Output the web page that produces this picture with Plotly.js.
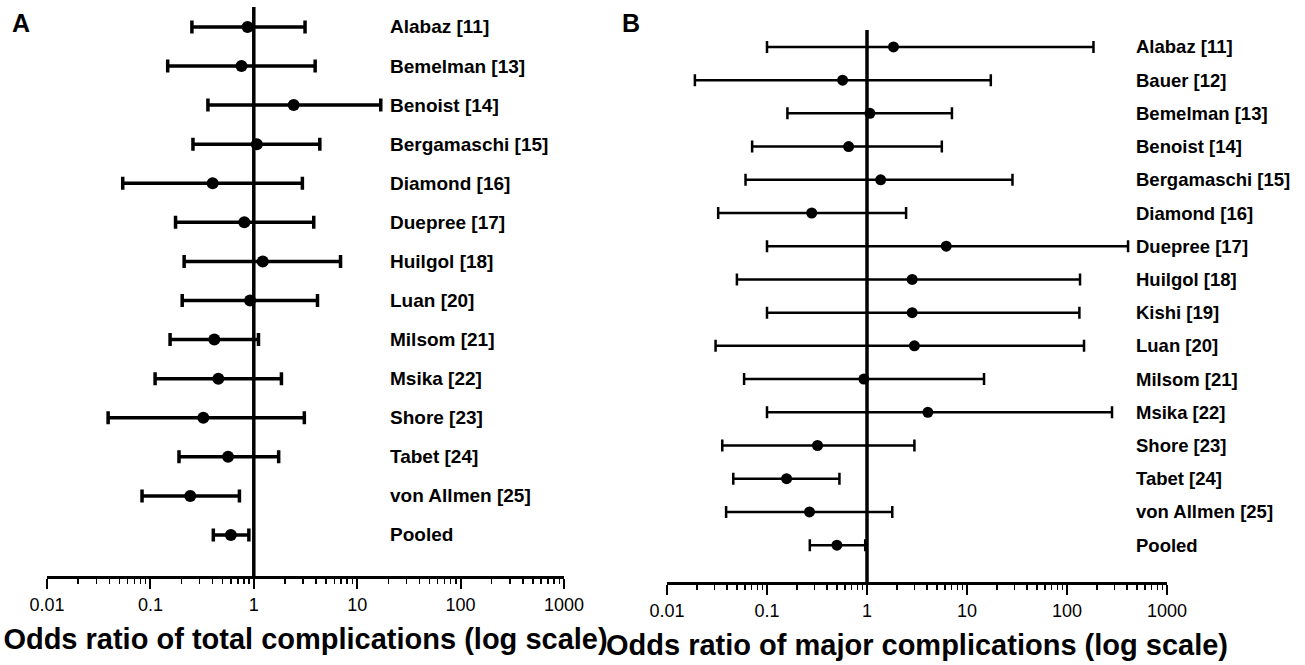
<!DOCTYPE html>
<html>
<head>
<meta charset="utf-8">
<script src="https://cdn.plot.ly/plotly-3.0.1.min.js"></script>
<style>html,body{margin:0;padding:0;background:#fff;}#chart{width:1305px;height:665px;}</style>
</head>
<body>
<div id="chart"></div>
<script>
// Panel A: total complications
const studiesA = ["Alabaz [11]", "Bemelman [13]", "Benoist [14]", "Bergamaschi [15]", "Diamond [16]", "Duepree [17]", "Huilgol [18]", "Luan [20]", "Milsom [21]", "Msika [22]", "Shore [23]", "Tabet [24]", "von Allmen [25]", "Pooled"];
const oddsA = [0.87, 0.76, 2.43, 1.07, 0.40, 0.81, 1.22, 0.92, 0.415, 0.454, 0.325, 0.564, 0.243, 0.60];
const lowA  = [0.252, 0.147, 0.36, 0.258, 0.054, 0.175, 0.212, 0.203, 0.155, 0.111, 0.039, 0.189, 0.083, 0.406];
const highA = [3.13, 3.92, 16.9, 4.35, 2.95, 3.8, 6.9, 4.13, 1.11, 1.85, 3.08, 1.74, 0.726, 0.896];

// Panel B: major complications
const studiesB = ["Alabaz [11]", "Bauer [12]", "Bemelman [13]", "Benoist [14]", "Bergamaschi [15]", "Diamond [16]", "Duepree [17]", "Huilgol [18]", "Kishi [19]", "Luan [20]", "Milsom [21]", "Msika [22]", "Shore [23]", "Tabet [24]", "von Allmen [25]", "Pooled"];
const oddsB = [1.84, 0.57, 1.07, 0.655, 1.37, 0.28, 6.2, 2.83, 2.83, 2.98, 0.93, 4.06, 0.32, 0.157, 0.266, 0.50];
const lowB  = [0.10, 0.019, 0.16, 0.071, 0.061, 0.0325, 0.10, 0.05, 0.10, 0.0306, 0.059, 0.10, 0.0357, 0.046, 0.039, 0.268];
const highB = [184, 17.3, 7.07, 5.6, 28.5, 2.46, 408, 135, 133, 148, 14.8, 282, 2.98, 0.53, 1.79, 0.96];

// Axis ticks
const tickValues = [0.01, 0.1, 1, 10, 100, 1000];
const tickLabels = ["0.01", "0.1", "1", "10", "100", "1000"];
const nullValue = 1;

const FONT = "Liberation Sans, Arial, Helvetica, sans-serif";
const W = 1305, H = 665;

function forestTrace(cats, odds, low, high, xa, ya, thick, capw, msize) {
  return {
    type: "scatter", mode: "markers",
    x: odds, y: cats, xaxis: xa, yaxis: ya,
    marker: {color: "black", size: msize},
    error_x: {
      type: "data", symmetric: false,
      array: high.map((h, i) => h - odds[i]),
      arrayminus: odds.map((o, i) => o - low[i]),
      color: "black", thickness: thick, width: capw
    },
    hoverinfo: "x+y"
  };
}

function xAxis(domain, anchor, title) {
  return {
    domain: domain, anchor: anchor, type: "log", range: [-2, 3],
    tickvals: tickValues, ticktext: tickLabels,
    ticks: "outside", ticklen: 10, tickwidth: 2, tickcolor: "black",
    showline: true, linewidth: 3, linecolor: "black",
    showgrid: false, zeroline: false,
    minor: {ticks: "outside", ticklen: 5, tickwidth: 1.5, tickcolor: "black", dtick: "D1", showgrid: false},
    tickfont: {family: FONT, size: 18, color: "black"},
    title: {text: title, font: {family: FONT, size: 29, color: "black", weight: "bold"}, standoff: 16},
    fixedrange: true
  };
}

function yAxis(domain, anchor, cats, range) {
  return {
    domain: domain, anchor: anchor, type: "category", categoryarray: cats, categoryorder: "array",
    range: range, showticklabels: false, showgrid: false, zeroline: false, showline: false, ticks: "",
    fixedrange: true
  };
}

const domA = [(H - 576) / H, (H - 7) / H];
const domB = [(H - 582) / H, (H - 30) / H];

const traces = [
  forestTrace(studiesA, oddsA, lowA, highA, "x", "y", 3.5, 6.5, 12),
  forestTrace(studiesB, oddsB, lowB, highB, "x2", "y2", 2.5, 6, 11)
];

const annotations = [];
studiesA.forEach(s => annotations.push({
  xref: "paper", yref: "y", x: 388 / W, y: s, text: s, showarrow: false,
  xanchor: "left", yanchor: "middle", font: {family: FONT, size: 19, color: "black", weight: "bold"}
}));
studiesB.forEach(s => annotations.push({
  xref: "paper", yref: "y2", x: 1134 / W, y: s, text: s, showarrow: false,
  xanchor: "left", yanchor: "middle", font: {family: FONT, size: 18.5, color: "black", weight: "bold"}
}));
annotations.push({xref: "paper", yref: "paper", x: 10 / W, y: 1 - 23 / H, text: "A", showarrow: false,
  xanchor: "left", yanchor: "middle", font: {family: FONT, size: 25, color: "black", weight: "bold"}});
annotations.push({xref: "paper", yref: "paper", x: 620 / W, y: 1 - 23 / H, text: "B", showarrow: false,
  xanchor: "left", yanchor: "middle", font: {family: FONT, size: 25, color: "black", weight: "bold"}});

const layout = {
  width: W, height: H,
  margin: {l: 0, r: 0, t: 0, b: 0},
  paper_bgcolor: "white", plot_bgcolor: "rgba(0,0,0,0)",
  showlegend: false,
  font: {family: FONT, color: "black"},
  xaxis: xAxis([47 / W, 564 / W], "y", "Odds ratio of total complications (log scale)"),
  yaxis: yAxis(domA, "x", studiesA, [14.05, -0.51]),
  xaxis2: xAxis([667 / W, 1167 / W], "y2", "Odds ratio of major complications (log scale)"),
  yaxis2: yAxis(domB, "x2", studiesB, [16.11, -0.51]),
  shapes: [
    {type: "line", xref: "x", yref: "y domain", x0: nullValue, x1: nullValue, y0: 0, y1: 1,
     line: {color: "black", width: 3.5}, layer: "above"},
    {type: "line", xref: "x2", yref: "y2 domain", x0: nullValue, x1: nullValue, y0: 0, y1: 1,
     line: {color: "black", width: 3.5}, layer: "above"}
  ],
  annotations: annotations
};

Plotly.newPlot("chart", traces, layout, {displayModeBar: false, staticPlot: true});
</script>
</body>
</html>
